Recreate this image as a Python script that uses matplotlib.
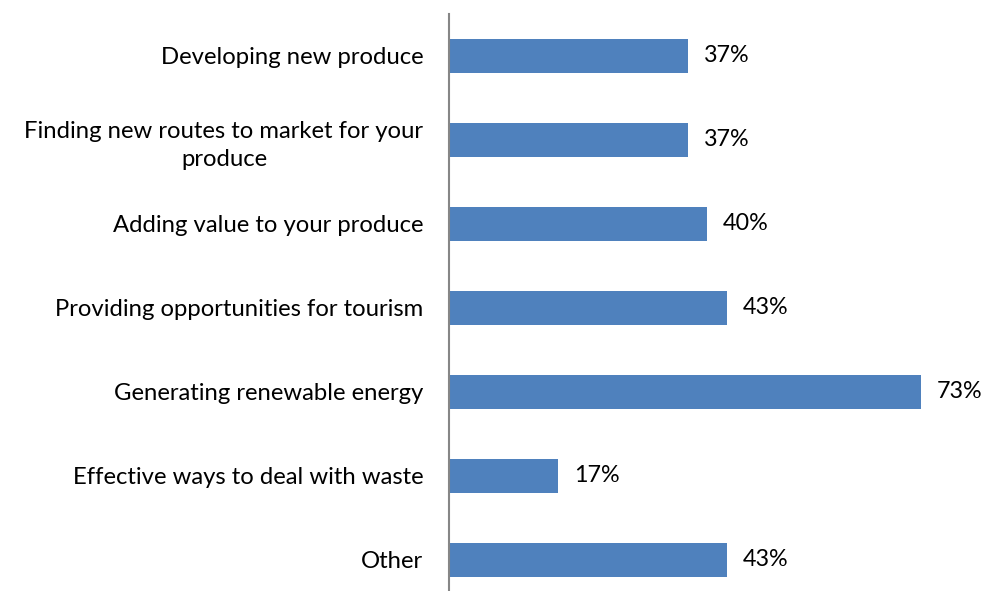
import matplotlib
matplotlib.use("Agg")
import matplotlib.pyplot as plt

categories = [
    "Developing new produce",
    "Finding new routes to market for your\nproduce",
    "Adding value to your produce",
    "Providing opportunities for tourism",
    "Generating renewable energy",
    "Effective ways to deal with waste",
    "Other",
]
values = [37, 37, 40, 43, 73, 17, 43]
value_labels = ["37%", "37%", "40%", "43%", "73%", "17%", "43%"]

plt.rcParams['font.family'] = ['Lato', 'DejaVu Sans']

fig = plt.figure(figsize=(9.85, 5.91), dpi=100)
ax = fig.add_axes([448.5/985, (591-602)/591, 80*6.47/985, 588/591])

y = list(range(len(categories)))
ax.barh(y, values, height=0.4, color='#4F81BD')
ax.set_ylim(len(categories) - 0.5, -0.5)
ax.set_xlim(0, 80)

for yi, v, lab in zip(y, values, value_labels):
    ax.annotate(lab, (v, yi), xytext=(11.5, 0), textcoords='offset points',
                va='center', ha='left', fontsize=16.8, color='#000000')

ax.set_yticks(y)
ax.set_yticklabels(categories, fontsize=17.2, multialignment='center')
for t in ax.get_yticklabels():
    t.set_linespacing(1.4)
ax.tick_params(axis='y', length=0, pad=18)
ax.set_xticks([])
for s in ['top', 'right', 'bottom']:
    ax.spines[s].set_visible(False)
ax.spines['left'].set_color('#868686')
ax.spines['left'].set_linewidth(1.5)

fig.savefig("out.png", dpi=100)
